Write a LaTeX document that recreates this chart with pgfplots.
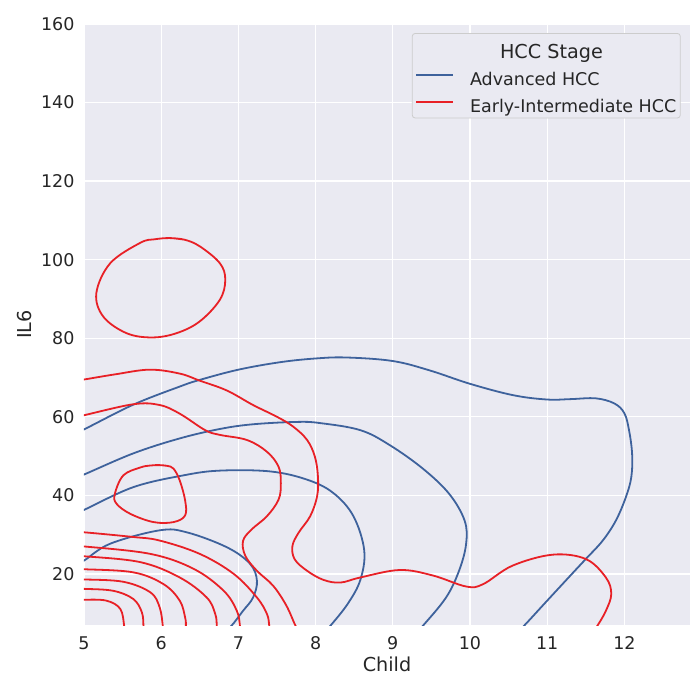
\documentclass[border=0pt]{standalone}
\usepackage{pgfplots}
\pgfplotsset{compat=1.18}
\usepackage{fontspec}
\setmainfont{DejaVu Sans}
\definecolor{bgc}{RGB}{234,234,242}
\definecolor{cblue}{RGB}{62,98,156}
\definecolor{cred}{RGB}{232,32,38}
\definecolor{tcol}{RGB}{38,38,38}
\pgfplotsset{kde/.style={smooth, tension=0.6, line width=1.8pt, forget plot}}
\begin{document}
\begin{tikzpicture}
\path[use as bounding box] (-84pt,-50pt) rectangle (607pt,625pt);
\begin{axis}[
  at={(0pt,0pt)}, anchor=south west,
  scale only axis, width=606pt, height=601pt,
  xmin=5, xmax=12.85, ymin=7, ymax=160,
  xtick={5,6,...,12}, ytick={20,40,...,160},
  axis background/.style={fill=bgc},
  axis line style={draw=none},
  major tick length=0pt,
  grid=major, grid style={white, line width=1.3pt},
  /pgf/number format/assume math mode=true,
  tick label style={font=\fontsize{17.5}{20}\selectfont, text=tcol},
  xticklabel style={yshift=-8pt},
  yticklabel style={xshift=-6pt},
  xlabel={Child}, ylabel={IL6},
  label style={font=\fontsize{19.2}{22}\selectfont, text=tcol},
  xlabel style={at={(axis description cs:0.5,0)}, anchor=north, yshift=-28pt},
  ylabel style={at={(axis description cs:0,0.5)}, anchor=center, yshift=59pt},
  legend cell align=left,
  legend style={at={(rel axis cs:0.541,0.985)}, anchor=north west,
    draw=black!20, fill=bgc, rounded corners=3pt, line width=0.8pt,
    font=\fontsize{17.5}{20}\selectfont, text=tcol,
    inner xsep=3pt, inner ysep=3.5pt, row sep=10pt, column sep=15pt,
    nodes={inner sep=1pt}},
  legend image code/.code={\draw[#1, line width=1.8pt] (0pt,4pt) -- (37pt,4pt);},
]
\addlegendimage{empty legend}
\addlegendentry{\rule[-4.5pt]{0pt}{25pt}\hspace*{30pt}\fontsize{19.2}{22}\selectfont HCC Stage}
\addlegendimage{cblue}
\addlegendentry{\rule[-4.5pt]{0pt}{14pt}Advanced HCC}
\addlegendimage{cred}
\addlegendentry{\rule[-12pt]{0pt}{14pt}Early-Intermediate HCC}

% Advanced HCC (blue)
\addplot[cblue, kde] coordinates {(4.9,56.2) (5,56.8) (5.64,63.1) (6.24,67.7) (6.5,69.4) (7,72.0) (7.54,73.9) (8,74.85) (8.4,75.1) (9,74.2) (9.48,71.8) (10,68.4) (10.56,65.5) (11,64.4) (11.3,64.5) (11.63,64.7) (11.87,63.4) (12.0,60.9) (12.06,56.6) (12.10,50.6) (12.09,44.7) (12.02,39.6) (11.89,33.6) (11.72,28.5) (11.50,23.8) (11.32,20.0) (11.0,13.2) (10.70,6.8) (10.6,5)};
\addplot[cblue, kde] coordinates {(4.9,44.6) (5,45.3) (5.64,50.7) (6.24,54.5) (6.76,56.9) (7.19,58.1) (7.76,58.7) (8.06,58.4) (8.58,56.6) (8.96,52.8) (9.39,46.8) (9.73,40.4) (9.93,33.6) (9.95,27.7) (9.86,20.9) (9.69,14.0) (9.39,6.8) (9.3,5)};
\addplot[cblue, kde] coordinates {(4.9,35.6) (5,36.3) (5.64,42.1) (6.29,45.1) (6.76,46.3) (7.41,46.1) (7.89,44.0) (8.23,40.6) (8.49,34.7) (8.63,26.0) (8.58,18.5) (8.42,12.5) (8.2,7.0) (8.1,5)};
\addplot[cblue, kde] coordinates {(4.9,22.8) (5,23.4) (5.34,27.7) (5.98,31.1) (6.33,30.6) (6.85,26.8) (7.15,22.6) (7.24,18.3) (7.19,14.0) (7.06,10.6) (6.91,6.8) (6.8,5)};

% Early-Intermediate HCC (red)
\addplot[cred, kde] coordinates {(4.9,69.3) (5,69.5) (5.4,70.8) (5.85,72.0) (6.24,71.0) (6.5,69.2) (6.85,66.7) (7.19,63.0) (7.50,60.0) (7.71,57.5) (7.89,54.1) (7.99,49.9) (8.03,44.9) (8.02,39.8) (7.93,34.7) (7.78,30.5) (7.70,27.1) (7.73,23.7) (7.89,20.8) (8.10,18.5) (8.32,17.8) (8.58,19.1) (9.09,21.0) (9.52,19.6) (9.95,16.8) (10.17,17.4) (10.55,22.1) (11.07,24.9) (11.5,23.8) (11.76,19.1) (11.83,14.9) (11.76,10.6) (11.65,6.8) (11.58,5)};
\addplot[cred, kde] coordinates {(4.9,60.0) (5,60.4) (5.64,63.2) (5.98,63.0) (6.24,60.8) (6.57,56.6) (6.76,55.4) (7.11,54.1) (7.37,51.1) (7.52,47.3) (7.55,43.1) (7.52,38.9) (7.37,34.7) (7.17,31.3) (7.06,28.4) (7.09,24.6) (7.24,20.8) (7.45,17.0) (7.62,12.0) (7.74,6.8) (7.8,5)};
\addplot[cred, kde] coordinates {(5.98,47.7) (6.08,47.5) (6.16,46.8) (6.24,43.8) (6.31,38.7) (6.31,34.9) (6.16,33.2) (5.90,33.2) (5.60,35.3) (5.42,37.9) (5.40,40.4) (5.51,45.1) (5.73,47.1) (5.86,47.6) (5.98,47.7) (6.08,47.5)};
\addplot[cred, kde] coordinates {(6.11,105.5) (6.30,105.1) (6.50,103.4) (6.76,99.1) (6.83,94.9) (6.76,89.8) (6.50,84.3) (6.20,81.3) (5.88,80.2) (5.55,81.3) (5.25,85.5) (5.16,91.5) (5.34,99.1) (5.73,104.3) (5.92,105.2) (6.11,105.5) (6.30,105.1)};
\addplot[cred, kde] coordinates {(4.9,30.6) (5,30.6) (5.64,29.4) (5.98,28.5) (6.50,25.1) (6.94,20.0) (7.24,14.0) (7.37,9.8) (7.40,6.8) (7.41,5)};
\addplot[cred, kde] coordinates {(4.9,27.0) (5,27.0) (5.86,25.1) (6.42,21.3) (6.81,15.7) (6.98,10.6) (7.02,6.8) (7.03,5)};
\addplot[cred, kde] coordinates {(4.9,24.5) (5,24.5) (5.73,23.0) (6.24,19.1) (6.59,14.0) (6.70,9.8) (6.72,6.8) (6.72,5)};
\addplot[cred, kde] coordinates {(4.9,21.2) (5,21.2) (5.64,20.4) (6.03,17.4) (6.24,13.2) (6.31,8.9) (6.32,6.8) (6.32,5)};
\addplot[cred, kde] coordinates {(4.9,18.6) (5,18.6) (5.51,18.0) (5.86,15.3) (5.98,11.5) (6.02,6.8) (6.02,5)};
\addplot[cred, kde] coordinates {(4.9,16.2) (5,16.2) (5.38,15.7) (5.64,13.6) (5.75,10.2) (5.77,6.8) (5.77,5)};
\addplot[cred, kde] coordinates {(4.9,13.45) (5,13.45) (5.29,13.2) (5.47,11.1) (5.52,6.8) (5.52,5)};
\end{axis}
\end{tikzpicture}
\end{document}
